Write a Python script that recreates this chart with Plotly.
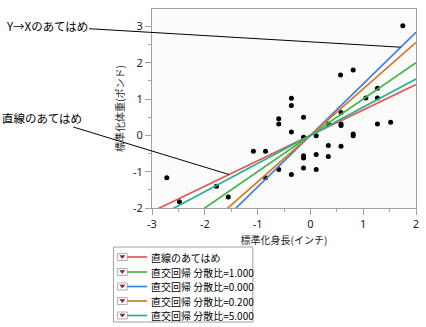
import plotly.graph_objects as go

# ---------------- data ----------------
height_std = [1.75, 0.57, 0.81, 1.27, 1.05, 1.27, -0.36, -0.36, 0.58, -0.60,
              -0.60, -0.13, 0.34, 0.58, 0.58, 1.27, 1.52, -0.36, -0.13, 0.11,
              0.81, 0.81, 0.34, 0.58, -1.08, -0.85, -0.13, -0.13, 0.11, 0.34,
              -0.60, -0.36, -0.13, 0.11, -0.85, -2.72, -1.78, -1.555, -2.48]
weight_std = [3.02, 1.66, 1.80, 1.30, 1.03, 1.03, 1.02, 0.82, 0.63, 0.46,
              0.31, 0.50, 0.31, 0.31, 0.27, 0.31, 0.36, 0.09, -0.05, -0.01,
              0.04, -0.01, -0.28, -0.30, -0.44, -0.44, -0.56, -0.62, -0.53, -0.58,
              -0.94, -1.08, -0.90, -0.94, -1.17, -1.17, -1.40, -1.70, -1.83]

fit_names = ["直線のあてはめ", "直交回帰 分散比=1.000", "直交回帰 分散比=0.000",
             "直交回帰 分散比=0.200", "直交回帰 分散比=5.000"]
fit_slopes = [0.70, 1.00, 1.42, 1.28, 0.775]
fit_colors = ["#E0585A", "#44B449", "#3F7FE3", "#D47A22", "#25B28C"]

x_tick_vals = [-3, -2, -1, 0, 1, 2]
x_tick_text = ["-3", "-2", "-1", "0", "1", "2"]
y_tick_vals = [-2, -1, 0, 1, 2, 3]
y_tick_text = ["-2", "-1", "0", "1", "2", "3"]

x_title = "標準化身長(インチ)"
y_title = "標準化体重(ポンド)"
note_yx = "Y→Xのあてはめ"
note_line = "直線のあてはめ"

# ---------------- layout geometry ----------------
W, H = 426, 327
ML, MR, MT, MB = 152, 7, 9, 119
X_RANGE = [-3, 2]
Y_RANGE = [-2, 3.48]
PW = W - ML - MR
PH = H - MT - MB

def px(x):
    return (x - ML) / PW

def py(y):
    return (H - MB - y) / PH

CJK = "Noto Sans CJK JP"

fig = go.Figure()

fig.add_trace(go.Scatter(
    x=height_std, y=weight_std, mode="markers",
    marker=dict(color="black", size=5),
    showlegend=False, hoverinfo="skip"))

for name, s, c in zip(fit_names, fit_slopes, fit_colors):
    fig.add_trace(go.Scatter(
        x=X_RANGE, y=[s * X_RANGE[0], s * X_RANGE[1]], mode="lines",
        line=dict(color=c, width=1.7), name=name, showlegend=False))

# annotations with leader lines
x_yx = 1.71
x_ln = -1.54
annotations = [
    dict(x=x_yx, y=fit_slopes[2] * x_yx, xref="x", yref="y",
         text=note_yx, showarrow=True, arrowhead=0, arrowwidth=1,
         arrowcolor="black", ax=-354, ay=-21,
         font=dict(family=CJK, size=11.5, color="black")),
    dict(x=x_ln, y=fit_slopes[0] * x_ln, xref="x", yref="y",
         text=note_line, showarrow=True, arrowhead=0, arrowwidth=1,
         arrowcolor="black", ax=-187, ay=-57,
         font=dict(family=CJK, size=11.5, color="black")),
]

# custom legend
shapes = []
LX0, LX1, LY0, LY1 = 113, 254, 247, 322
shapes.append(dict(type="rect", xref="paper", yref="paper",
                   x0=px(LX0), x1=px(LX1), y0=py(LY1), y1=py(LY0),
                   line=dict(color="#A0A0A0", width=1), fillcolor="white",
                   layer="above"))
row_y = [257, 272, 286.5, 301, 315.5]
for yy, name, c in zip(row_y, fit_names, fit_colors):
    # dropdown icon
    shapes.append(dict(type="rect", xref="paper", yref="paper",
                       x0=px(117), x1=px(127), y0=py(yy + 3.5), y1=py(yy - 3.5),
                       line=dict(color="#B0B0B0", width=1), fillcolor="#FAFAFA",
                       layer="above"))
    tri = "M {} {} L {} {} L {} {} Z".format(px(119.5), py(yy - 1.5),
                                              px(124.5), py(yy - 1.5),
                                              px(122), py(yy + 1.5))
    shapes.append(dict(type="path", xref="paper", yref="paper", path=tri,
                       fillcolor="#8B1E1E", line=dict(color="#8B1E1E", width=0.5),
                       layer="above"))
    shapes.append(dict(type="line", xref="paper", yref="paper",
                       x0=px(127), x1=px(147), y0=py(yy), y1=py(yy),
                       line=dict(color=c, width=1.7), layer="above"))
    annotations.append(dict(x=px(149), y=py(yy), xref="paper", yref="paper",
                            text=name, showarrow=False, xanchor="left",
                            yanchor="middle",
                            font=dict(family=CJK, size=10, color="black")))

axis_common = dict(
    showgrid=False, zeroline=False, showline=True, linecolor="#A0A0A0",
    linewidth=1, mirror=True, ticks="outside", ticklen=6, tickcolor="#A0A0A0",
    tickfont=dict(family="Noto Sans", size=11, color="#222222"),
)

fig.update_layout(
    width=W, height=H, autosize=False,
    margin=dict(l=ML, r=MR, t=MT, b=MB, pad=0),
    paper_bgcolor="white", plot_bgcolor="#FBFBFB",
    showlegend=False,
    xaxis=dict(range=X_RANGE, tickmode="array", tickvals=x_tick_vals,
               ticktext=x_tick_text,
               minor=dict(tickmode="array", tickvals=[-2.5, -1.5, -0.5, 0.5, 1.5],
                          ticks="outside", ticklen=3, tickcolor="#A0A0A0"),
               title=dict(text=x_title, standoff=6,
                          font=dict(family=CJK, size=10, color="#222222")),
               **axis_common),
    yaxis=dict(range=Y_RANGE, tickmode="array", tickvals=y_tick_vals,
               ticktext=y_tick_text,
               minor=dict(tickmode="array", tickvals=[-1.5, -0.5, 0.5, 1.5, 2.5],
                          ticks="outside", ticklen=3, tickcolor="#A0A0A0"),
               title=dict(text=y_title, standoff=6,
                          font=dict(family=CJK, size=10, color="#222222")),
               **axis_common),
    annotations=annotations,
    shapes=shapes,
)

fig.write_html("out.html")
